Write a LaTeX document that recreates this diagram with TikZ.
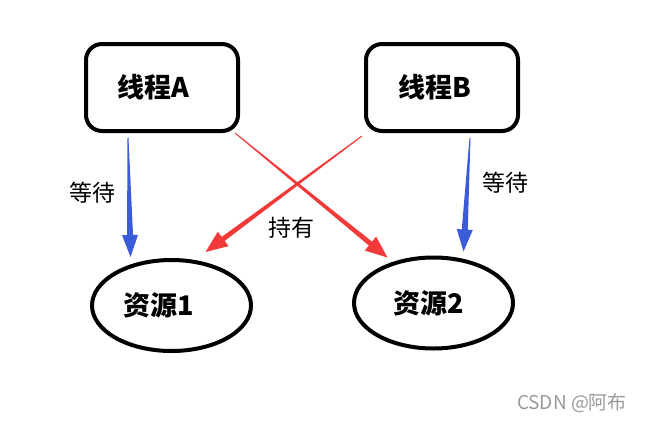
\documentclass[tikz,border=0pt]{standalone}
\usepackage{fontspec}
\setmainfont{Noto Sans CJK SC}
\usepackage{tikz}
\usetikzlibrary{positioning,calc,shapes.geometric}
\definecolor{waitblue}{HTML}{3b5bd8}
\definecolor{holdred}{HTML}{f23a3a}

% tapered arrow: colour, from, to, shaft half width, head half width, head length
\newcommand{\taper}[6]{%
  \fill[#1] ($(#2)!0.5pt!-90:(#3)$)
    -- ($(#3)!#6!(#2)!#4!-90:(#3)$)
    -- ($(#3)!#6!(#2)!#5!-90:(#3)$)
    -- (#3)
    -- ($(#3)!#6!(#2)!#5!90:(#3)$)
    -- ($(#3)!#6!(#2)!#4!90:(#3)$)
    -- ($(#2)!0.5pt!90:(#3)$) -- cycle;}

\begin{document}
\begin{tikzpicture}[x=1pt, y=-1pt, node distance=124pt,
    thread/.style={draw, line width=4pt, rounded corners=16pt, minimum width=152pt, minimum height=87pt, font=\fontsize{27}{30}\selectfont\bfseries},
    res/.style={draw, ellipse, line width=4pt, inner sep=0pt, minimum width=159pt, minimum height=91pt, font=\fontsize{27}{30}\selectfont\bfseries},
    lbl/.style={font=\fontsize{23}{26}\selectfont}]
    \useasboundingbox (0,0) rectangle (652,423);

    \node[thread] (thA) at (162,87.5) {\hspace*{-18pt}线程A};
    \node[thread, right=of thA] (thB) {\hspace*{-14pt}线程B};
    \node[res] (res1) at (171.5,305.5) {\hspace*{-26pt}资源1};
    \node[res] (res2) at (433.5,303) {\hspace*{-10pt}资源2};

    \coordinate (waA) at ($(thA.south)+(-34,5)$);
    \coordinate (weA) at ($(res1.north)+(-41,-1)$);
    \coordinate (waB) at ($(thB.south)+(28,5)$);
    \coordinate (weB) at ($(res2.north)+(30,-4)$);
    \coordinate (hA) at ($(thA.south east)+(-5,0)$);
    \coordinate (hB) at ($(thB.south west)+(-2,3)$);
    \coordinate (heA) at ($(res2.north)+(-46,2)$);
    \coordinate (heB) at ($(res1.north)+(34,-6)$);

    \taper{waitblue}{waA}{weA}{3pt}{8pt}{22pt}
    \taper{waitblue}{waB}{weB}{3pt}{8pt}{22pt}
    \taper{holdred}{hA}{heA}{2.5pt}{9pt}{22pt}
    \taper{holdred}{hB}{heB}{2.5pt}{9pt}{22pt}

    \node[lbl] (waitA) at (92,193) {等待};
    \node[lbl] (waitB) at (505,183) {等待};
    \node[lbl] (hold) at (291,228) {持有};
    \node[font=\fontsize{19}{22}\selectfont, text=black!40] (mark) at (572,403) {CSDN @阿布};
  \end{tikzpicture}
\end{document}
